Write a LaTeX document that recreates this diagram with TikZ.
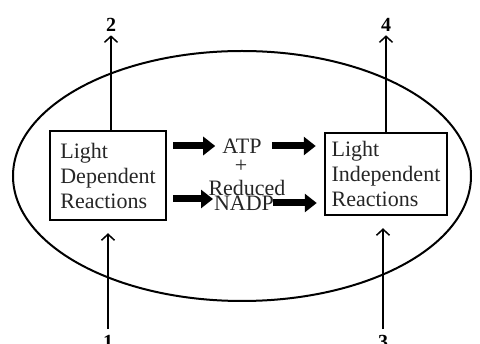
\documentclass[tikz,border=0pt]{standalone}
\usepackage{fontspec}
\setmainfont{Liberation Serif}
\usetikzlibrary{arrows.meta,calc}
\begin{document}
\begin{tikzpicture}[x=1pt,y=-1pt,
  txt/.style={text=black!85,font=\fontsize{22}{25}\selectfont,inner sep=0pt},
  box/.style={draw=black,line width=2.5pt,minimum width=116pt,minimum height=89pt,align=left,inner sep=0pt,txt},
  thinarrow/.style={line width=1.5pt,-{Straight Barb[length=6pt,width=13pt]}},
  fatarrow/.style={line width=7pt,-{Triangle[length=12pt,width=18pt]}},
  num/.style={font=\fontsize{20}{20}\selectfont\bfseries,inner sep=0pt}]
\useasboundingbox (0,0) rectangle (480,344);
\draw[line width=2pt] (242,176) ellipse [x radius=229, y radius=125];
\node[box] (ld) at (108,175.5) {Light\\Dependent\\Reactions};
\node[box,minimum width=122pt,minimum height=82pt] (li) at (386,174) {Light\\Independent\\Reactions};
\node[txt] (atp) at (242,146) {ATP};
\node[txt] (plus) at (241,166) {+};
\node[txt] (red) at (247,187.5) {Reduced};
\node[txt] (nadp) at (244,203.5) {NADP};
\coordinate (q1) at (213,199);
\coordinate (q2) at (273,203);
\draw[fatarrow,shorten <=6pt,shorten >=7pt] (ld.east |- atp) -- (atp.west);
\draw[fatarrow,shorten <=10pt,shorten >=8pt] (atp.east) -- (li.west |- atp);
\draw[fatarrow,shorten <=6pt] (ld.east |- q1) -- (q1);
\draw[fatarrow,shorten >=7pt] (q2) -- (li.west |- q2);
\node[num] (n2) at (111,25) {2};
\node[num] (n4) at (386,25) {4};
\node[num] (n1) at (108,342) {1};
\node[num] (n3) at (383,342) {3};
\draw[thinarrow,shorten >=3.5pt] (ld.north -| n2) -- (n2.south);
\draw[thinarrow,shorten >=3.5pt] (li.north -| n4) -- (n4.south);
\draw[thinarrow,shorten <=6pt,shorten >=12pt] (n1.north) -- (ld.south -| n1);
\draw[thinarrow,shorten <=6pt,shorten >=12pt] (n3.north) -- (li.south -| n3);
\end{tikzpicture}
\end{document}
